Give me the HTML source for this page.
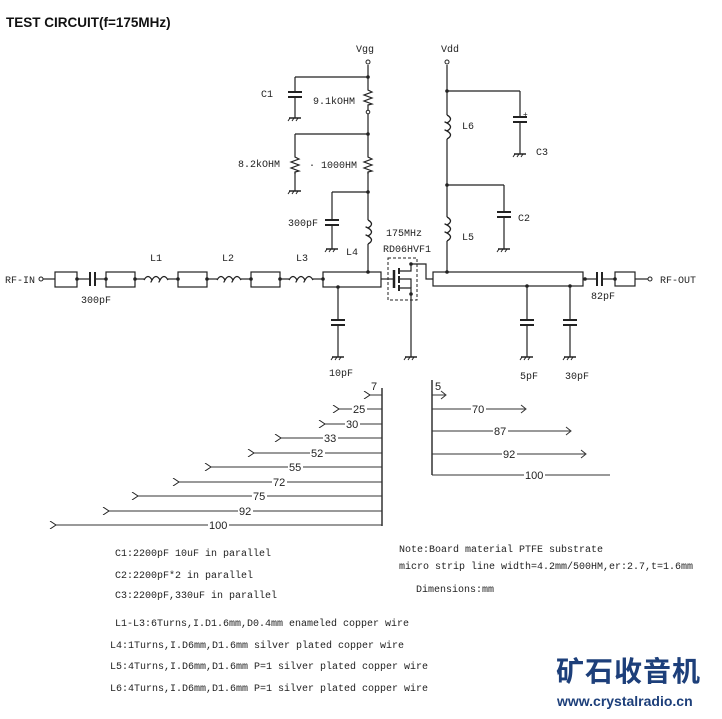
<!DOCTYPE html>
<html><head><style>
body{margin:0;background:#fff;}
svg text{font-family:"Liberation Sans",sans-serif;font-size:10px;fill:#222;}
svg .t text, svg text.t{font-family:"Liberation Mono",monospace;font-size:10px;}
</style></head><body>
<svg width="722" height="714" viewBox="0 0 722 714" xmlns="http://www.w3.org/2000/svg">
<defs>
<g id="gnd"><line x1="-6" y1="0" x2="6" y2="0" stroke="#222" stroke-width="1.5"/><line x1="-5" y1="0" x2="-7" y2="3" stroke="#222"/><line x1="-1" y1="0" x2="-3" y2="3" stroke="#222"/><line x1="3" y1="0" x2="1" y2="3" stroke="#222"/></g>
<g id="capv"><line x1="-7" y1="0" x2="7" y2="0" stroke="#222" stroke-width="2"/><line x1="-7" y1="5" x2="7" y2="5" stroke="#222" stroke-width="2"/></g>
<g id="coilh"><path d="M0,0 q4,-7 8,0 q-2,4 0,0 q4,-7 8,0 q-2,4 0,0 q4,-7 8,0" fill="none" stroke="#222" stroke-width="1.3"/></g>
<g id="coilv"><path d="M0,0 q7,4 0,8 q-4,-2 0,0 q7,4 0,8 q-4,-2 0,0 q7,4 0,8" fill="none" stroke="#222" stroke-width="1.3"/></g>
<g id="resv"><path d="M0,0 l0,2 l4,2 l-8,3 l8,3 l-8,3 l8,3 l-4,1 l0,2" fill="none" stroke="#222" stroke-width="1.2"/></g>
<marker id="al" markerWidth="8" markerHeight="8" refX="1" refY="4" orient="auto"><path d="M7,0 L1,4 L7,8" fill="none" stroke="#222"/></marker>
</defs>
<text x="6" y="27" style="font-size:13.5px;font-weight:bold;fill:#111">TEST CIRCUIT(f=175MHz)</text>
<g stroke="#222" fill="none" stroke-width="1.2">
<line x1="43" y1="279" x2="55" y2="279"/>
<rect x="55" y="272" width="22" height="15"/>
<line x1="77" y1="279" x2="90" y2="279"/>
<line x1="90" y1="272" x2="90" y2="286" stroke-width="2"/><line x1="95" y1="272" x2="95" y2="286" stroke-width="2"/>
<line x1="95" y1="279" x2="106" y2="279"/>
<rect x="106" y="272" width="29" height="15"/>
<line x1="135" y1="279" x2="144" y2="279"/>
<line x1="168" y1="279" x2="178" y2="279"/>
<rect x="178" y="272" width="29" height="15"/>
<line x1="207" y1="279" x2="217" y2="279"/>
<line x1="241" y1="279" x2="251" y2="279"/>
<rect x="251" y="272" width="29" height="15"/>
<line x1="280" y1="279" x2="289" y2="279"/>
<line x1="313" y1="279" x2="323" y2="279"/>
<rect x="323" y="272" width="58" height="15"/>
<line x1="368" y1="65" x2="368" y2="88"/>
<line x1="368" y1="107" x2="368" y2="155"/>
<line x1="368" y1="172" x2="368" y2="220"/>
<line x1="368" y1="244" x2="368" y2="272"/>
<line x1="295" y1="77" x2="368" y2="77"/><line x1="295" y1="77" x2="295" y2="92"/><line x1="295" y1="97" x2="295" y2="118"/>
<line x1="295" y1="134" x2="368" y2="134"/><line x1="295" y1="134" x2="295" y2="155"/><line x1="295" y1="172" x2="295" y2="191"/>
<line x1="332" y1="192" x2="368" y2="192"/><line x1="332" y1="192" x2="332" y2="220"/><line x1="332" y1="225" x2="332" y2="249"/>
<line x1="338" y1="287" x2="338" y2="320"/><line x1="338" y1="325" x2="338" y2="357"/>
<line x1="381" y1="279" x2="394" y2="279"/>
<line x1="394" y1="270" x2="394" y2="288" stroke-width="2.5"/>
<line x1="399" y1="268" x2="399" y2="274" stroke-width="2"/><line x1="399" y1="276" x2="399" y2="283" stroke-width="2"/><line x1="399" y1="285" x2="399" y2="291" stroke-width="2"/>
<path d="M399,271 H411 V264"/><path d="M399,288 H411 V357"/><path d="M399,279 H411 V288"/>
<path d="M411,264 H426 V279 H433"/>
<rect x="388" y="258" width="29" height="42" stroke-dasharray="3,2" stroke-width="1"/>
<line x1="447" y1="65" x2="447" y2="115"/>
<line x1="447" y1="139" x2="447" y2="217"/>
<line x1="447" y1="241" x2="447" y2="272"/>
<line x1="447" y1="91" x2="520" y2="91"/><line x1="520" y1="91" x2="520" y2="117"/><line x1="520" y1="122" x2="520" y2="154"/>
<line x1="447" y1="185" x2="504" y2="185"/><line x1="504" y1="185" x2="504" y2="212"/><line x1="504" y1="217" x2="504" y2="249"/>
<rect x="433" y="272" width="150" height="14"/>
<line x1="527" y1="286" x2="527" y2="320"/><line x1="527" y1="325" x2="527" y2="357"/>
<line x1="570" y1="286" x2="570" y2="320"/><line x1="570" y1="325" x2="570" y2="357"/>
<line x1="583" y1="279" x2="597" y2="279"/>
<line x1="597" y1="272" x2="597" y2="286" stroke-width="2"/><line x1="602" y1="272" x2="602" y2="286" stroke-width="2"/>
<line x1="602" y1="279" x2="615" y2="279"/>
<rect x="615" y="272" width="20" height="14"/>
<line x1="635" y1="279" x2="648" y2="279"/>
</g>
<g>
<use href="#coilh" x="144" y="280"/><use href="#coilh" x="217" y="280"/><use href="#coilh" x="289" y="280"/>
<use href="#coilv" x="368" y="220"/><use href="#coilv" x="447" y="115"/><use href="#coilv" x="447" y="217"/>
<use href="#resv" x="368" y="88"/><use href="#resv" x="368" y="155"/><use href="#resv" x="295" y="155"/>
<use href="#capv" x="295" y="92"/><use href="#capv" x="332" y="220"/><use href="#capv" x="338" y="320"/>
<use href="#capv" x="520" y="117"/><use href="#capv" x="504" y="212"/><use href="#capv" x="527" y="320"/><use href="#capv" x="570" y="320"/>
<use href="#gnd" x="295" y="118"/><use href="#gnd" x="295" y="191"/><use href="#gnd" x="332" y="249"/><use href="#gnd" x="338" y="357"/>
<use href="#gnd" x="411" y="357"/><use href="#gnd" x="520" y="154"/><use href="#gnd" x="504" y="249"/><use href="#gnd" x="527" y="357"/><use href="#gnd" x="570" y="357"/>
</g>
<g fill="#222">
<circle cx="77" cy="279" r="1.8"/><circle cx="106" cy="279" r="1.8"/><circle cx="135" cy="279" r="1.8"/><circle cx="178" cy="279" r="1.8"/><circle cx="207" cy="279" r="1.8"/><circle cx="251" cy="279" r="1.8"/><circle cx="280" cy="279" r="1.8"/><circle cx="323" cy="279" r="1.8"/>
<circle cx="368" cy="77" r="1.8"/><circle cx="368" cy="134" r="1.8"/><circle cx="368" cy="192" r="1.8"/><circle cx="368" cy="272" r="1.8"/><circle cx="338" cy="287" r="1.8"/>
<circle cx="411" cy="264" r="1.8"/><circle cx="411" cy="294" r="1.8"/>
<circle cx="447" cy="91" r="1.8"/><circle cx="447" cy="185" r="1.8"/><circle cx="447" cy="272" r="1.8"/><circle cx="527" cy="286" r="1.8"/><circle cx="570" cy="286" r="1.8"/><circle cx="585" cy="279" r="1.8"/><circle cx="615" cy="279" r="1.8"/>
</g>
<g fill="#fff" stroke="#222">
<circle cx="41" cy="279" r="2"/><circle cx="368" cy="62" r="2"/><circle cx="368" cy="112" r="1.8"/><circle cx="447" cy="62" r="2"/><circle cx="650" cy="279" r="2"/>
</g>
<text x="523" y="117" style="font-size:8px">+</text>
<g class="t">
<text x="5" y="283">RF-IN</text>
<text x="81" y="303">300pF</text>
<text x="150" y="261">L1</text><text x="222" y="261">L2</text><text x="296" y="261">L3</text>
<text x="356" y="52">Vgg</text><text x="441" y="52">Vdd</text>
<text x="261" y="97">C1</text><text x="313" y="104">9.1kOHM</text>
<text x="238" y="167">8.2kOHM</text><text x="309" y="168">· 1000HM</text>
<text x="288" y="226">300pF</text><text x="346" y="255">L4</text>
<text x="386" y="236">175MHz</text><text x="383" y="252">RD06HVF1</text>
<text x="329" y="376">10pF</text>
<text x="462" y="129">L6</text><text x="536" y="155">C3</text><text x="518" y="221">C2</text><text x="462" y="240">L5</text>
<text x="520" y="379">5pF</text><text x="565" y="379">30pF</text>
<text x="591" y="299">82pF</text><text x="660" y="283">RF-OUT</text>
</g>
<g stroke="#333" stroke-width="1" fill="none">
<line x1="382" y1="388" x2="382" y2="526" stroke-width="1.5"/>
<line x1="382" y1="395" x2="370" y2="395" marker-end="url(#al)"/>
<line x1="382" y1="409" x2="339" y2="409" marker-end="url(#al)"/>
<line x1="382" y1="424" x2="325" y2="424" marker-end="url(#al)"/>
<line x1="382" y1="438" x2="281" y2="438" marker-end="url(#al)"/>
<line x1="382" y1="453" x2="254" y2="453" marker-end="url(#al)"/>
<line x1="382" y1="467" x2="211" y2="467" marker-end="url(#al)"/>
<line x1="382" y1="482" x2="179" y2="482" marker-end="url(#al)"/>
<line x1="382" y1="496" x2="138" y2="496" marker-end="url(#al)"/>
<line x1="382" y1="511" x2="109" y2="511" marker-end="url(#al)"/>
<line x1="382" y1="525" x2="56" y2="525" marker-end="url(#al)"/>
<line x1="432" y1="380" x2="432" y2="475" stroke-width="1.5"/>
<line x1="432" y1="395" x2="445" y2="395"/><path d="M441,391 L446,395 L441,399"/>
<line x1="432" y1="409" x2="525" y2="409"/><path d="M521,405 L526,409 L521,413"/>
<line x1="432" y1="431" x2="570" y2="431"/><path d="M566,427 L571,431 L566,435"/>
<line x1="432" y1="454" x2="585" y2="454"/><path d="M581,450 L586,454 L581,458"/>
<line x1="432" y1="475" x2="610" y2="475"/>
</g>
<g style="font-size:11px">
<text x="371" y="390" style="font-size:11px">7</text>
<rect x="352" y="403" width="15" height="11" fill="#fff"/><text x="353" y="413" style="font-size:11px">25</text>
<rect x="345" y="418" width="15" height="11" fill="#fff"/><text x="346" y="428" style="font-size:11px">30</text>
<rect x="323" y="432" width="15" height="11" fill="#fff"/><text x="324" y="442" style="font-size:11px">33</text>
<rect x="310" y="447" width="15" height="11" fill="#fff"/><text x="311" y="457" style="font-size:11px">52</text>
<rect x="288" y="461" width="15" height="11" fill="#fff"/><text x="289" y="471" style="font-size:11px">55</text>
<rect x="272" y="476" width="15" height="11" fill="#fff"/><text x="273" y="486" style="font-size:11px">72</text>
<rect x="252" y="490" width="15" height="11" fill="#fff"/><text x="253" y="500" style="font-size:11px">75</text>
<rect x="238" y="505" width="15" height="11" fill="#fff"/><text x="239" y="515" style="font-size:11px">92</text>
<rect x="208" y="519" width="21" height="11" fill="#fff"/><text x="209" y="529" style="font-size:11px">100</text>
<text x="435" y="390" style="font-size:11px">5</text>
<rect x="471" y="403" width="15" height="11" fill="#fff"/><text x="472" y="413" style="font-size:11px">70</text>
<rect x="493" y="425" width="15" height="11" fill="#fff"/><text x="494" y="435" style="font-size:11px">87</text>
<rect x="502" y="448" width="15" height="11" fill="#fff"/><text x="503" y="458" style="font-size:11px">92</text>
<rect x="524" y="469" width="21" height="11" fill="#fff"/><text x="525" y="479" style="font-size:11px">100</text>
</g>
<g class="t">
<text x="115" y="556">C1:2200pF 10uF in parallel</text>
<text x="115" y="578">C2:2200pF*2 in parallel</text>
<text x="115" y="598">C3:2200pF,330uF in parallel</text>
<text x="115" y="626">L1-L3:6Turns,I.D1.6mm,D0.4mm enameled copper wire</text>
<text x="110" y="648">L4:1Turns,I.D6mm,D1.6mm silver plated copper wire</text>
<text x="110" y="669">L5:4Turns,I.D6mm,D1.6mm P=1 silver plated copper wire</text>
<text x="110" y="691">L6:4Turns,I.D6mm,D1.6mm P=1 silver plated copper wire</text>
<text x="399" y="552">Note:Board material PTFE substrate</text>
<text x="399" y="569">micro strip line width=4.2mm/500HM,er:2.7,t=1.6mm</text>
<text x="416" y="592">Dimensions:mm</text>
</g>
<text x="556" y="681" style="font-family:'Noto Sans CJK SC',sans-serif;font-size:28px;font-weight:bold;fill:#1d3f7a;letter-spacing:1px">矿石收音机</text>
<text x="557" y="706" style="font-size:14px;font-weight:bold;fill:#1d3f7a">www.crystalradio.cn</text>
</svg>
</body></html>
